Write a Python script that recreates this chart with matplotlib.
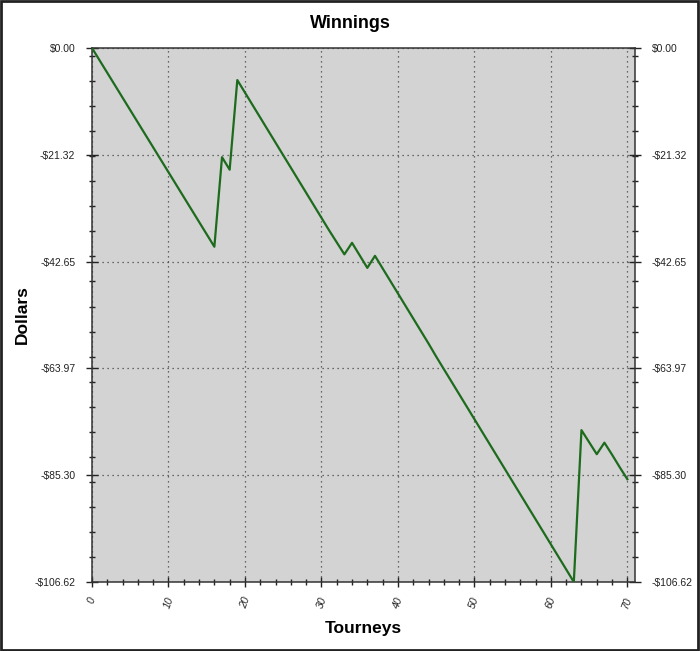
import matplotlib
matplotlib.use("Agg")
import matplotlib.pyplot as plt
from matplotlib.ticker import FixedLocator, FuncFormatter, MultipleLocator
from matplotlib.patches import Rectangle

plt.rcParams['font.family'] = ['Liberation Sans', 'DejaVu Sans']

tourneys = list(range(0, 71))
winnings = [
    0.0, -2.48, -4.96, -7.44, -9.92, -12.40, -14.88, -17.36, -19.84, -22.32,
    -24.80, -27.28, -29.76, -32.24, -34.72, -37.20, -39.68, -21.8, -24.3, -6.4,
    -8.9, -11.4, -13.9, -16.4, -18.9, -21.4, -23.9, -26.4, -28.9, -31.4,
    -33.9, -36.4, -38.8, -41.2, -38.9, -41.4, -43.9, -41.5, -44.0, -46.5,
    -49.0, -51.5, -54.0, -56.5, -59.0, -61.6, -64.1, -66.6, -69.1, -71.6,
    -74.1, -76.6, -79.1, -81.6, -84.1, -86.6, -89.1, -91.6, -94.1, -96.6,
    -99.1, -101.6, -104.1, -106.62, -76.3, -78.7, -81.1, -78.8, -81.2, -83.7,
    -86.1,
]
y_ticks = [0.0, -21.32, -42.65, -63.97, -85.30, -106.62]
x_ticks = [0, 10, 20, 30, 40, 50, 60, 70]

fig = plt.figure(figsize=(7.0, 6.51), dpi=100)
ax = fig.add_axes([92/700, 69/651, 543/700, 534/651])
ax.set_facecolor('#d3d3d3')

ax.plot(tourneys, winnings, color='#1d6b1d', lw=1.6, zorder=3)

ax.set_xlim(0, 71)
ax.set_ylim(-106.62, 0)

ax.yaxis.set_major_locator(FixedLocator(y_ticks))
minor_y = [-106.62 + 5 * k for k in range(1, 22)]
ax.yaxis.set_minor_locator(FixedLocator(minor_y))
ax.yaxis.set_major_formatter(FuncFormatter(lambda v, p: ('-$%.2f' % abs(v)) if v < -0.001 else '$%.2f' % abs(v)))
ax.xaxis.set_major_locator(FixedLocator(x_ticks))
ax.xaxis.set_minor_locator(MultipleLocator(2))

ax.tick_params(axis='y', which='both', direction='inout', left=True, right=True,
               labelleft=True, labelright=True, labelsize=7.5, pad=8, colors='#222222')
ax.tick_params(axis='y', which='major', length=8, width=1)
ax.tick_params(axis='y', which='minor', length=4.5, width=1)
ax.tick_params(axis='x', which='both', direction='inout', bottom=True, top=False,
               labelsize=7.5, pad=6, colors='#222222')
ax.tick_params(axis='x', which='major', length=7.5, width=1)
ax.tick_params(axis='x', which='minor', length=4.5, width=1)
for lab in ax.get_xticklabels():
    lab.set_rotation(70)
    lab.set_fontstyle('italic')
    lab.set_ha('center')
    lab.set_va('top')

ax.grid(True, which='major', color='#444444', linestyle=(0, (1, 3)), lw=0.9)

for side in ['top', 'right', 'left', 'bottom']:
    ax.spines[side].set_color('#333333')
    ax.spines[side].set_linewidth(1.1)

fig.text(350/700, 1 - 24/651, 'Winnings', ha='center', va='center', fontsize=13, fontweight='bold')
fig.text(22/700, 1 - 315/651, 'Dollars', ha='center', va='center', rotation=90, fontsize=12.5, fontweight='bold')
fig.text(363/700, 1 - 628/651, 'Tourneys', ha='center', va='center', fontsize=12.5, fontweight='bold')

fig.patches.append(Rectangle((0.0015, 0.002), 0.996, 0.996, transform=fig.transFigure,
                             fill=False, edgecolor='#222222', lw=2))

fig.savefig('out.png', dpi=100, facecolor='white')
